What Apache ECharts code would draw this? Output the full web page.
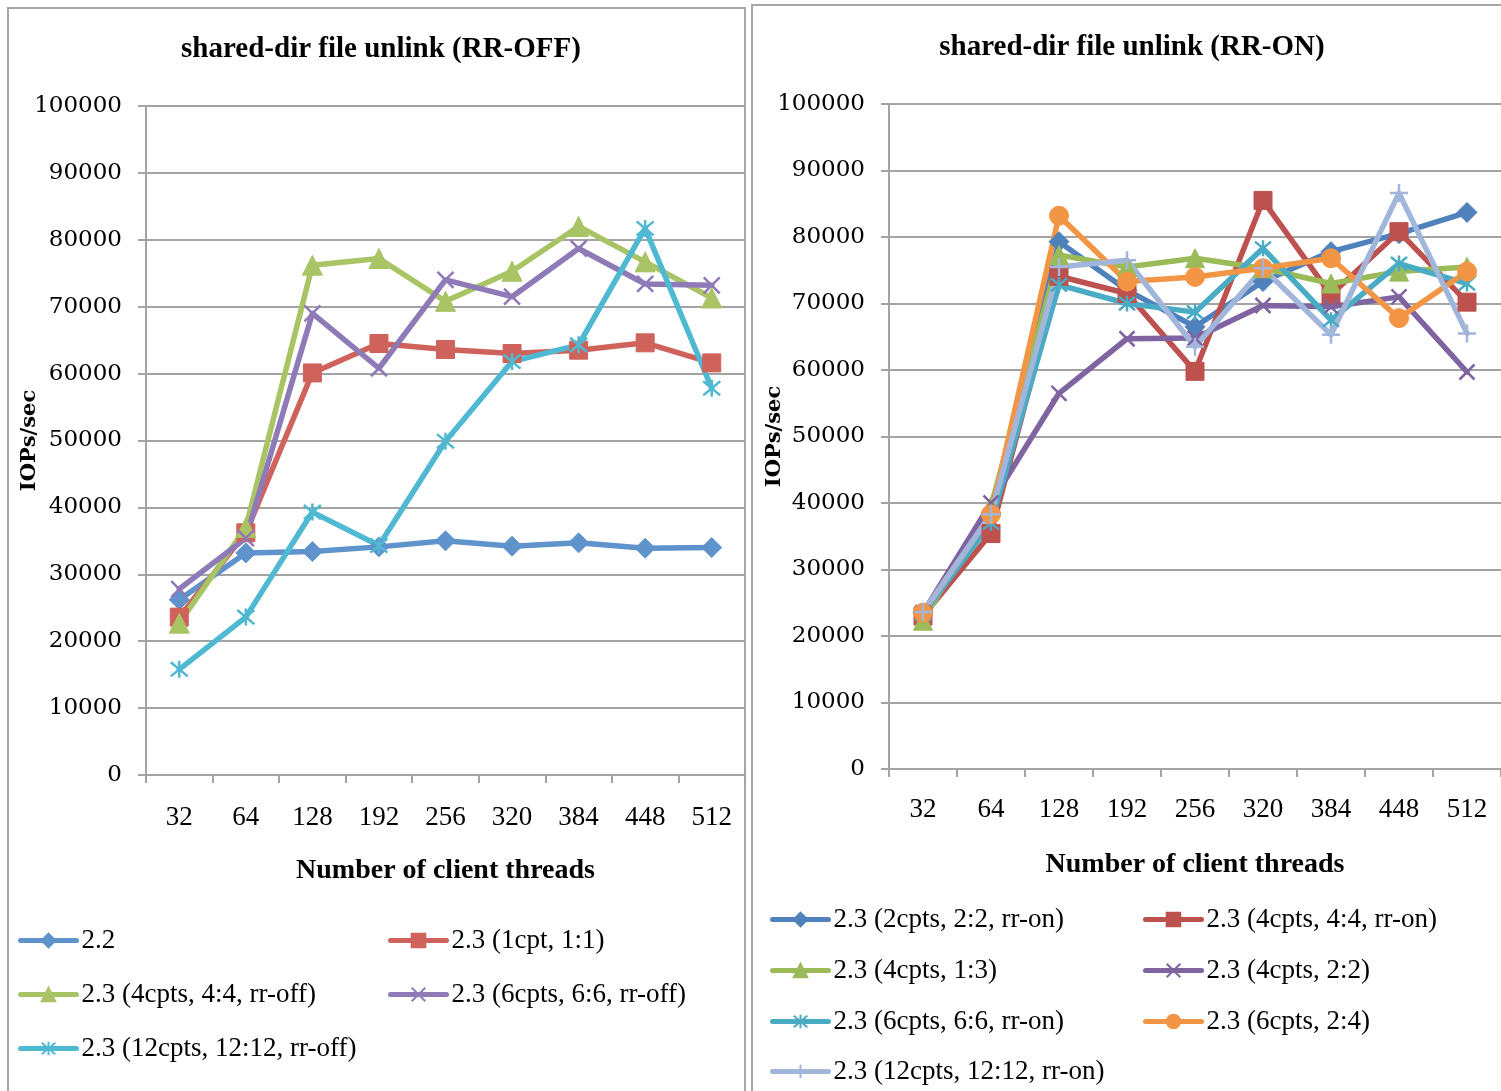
<!DOCTYPE html>
<html>
<head>
<meta charset="utf-8">
<script src="https://cdn.jsdelivr.net/npm/echarts@6/dist/echarts.min.js"></script>
<style>
  html, body { margin: 0; padding: 0; background: #fff; }
  #main { width: 1501px; height: 1091px; }
</style>
</head>
<body>
<div id="main"></div>
<script>
// categories (number of client threads)
var threads = ['32', '64', '128', '192', '256', '320', '384', '448', '512'];

// RR-OFF panel
var offNames = ['2.2', '2.3 (1cpt, 1:1)', '2.3 (4cpts, 4:4, rr-off)', '2.3 (6cpts, 6:6, rr-off)', '2.3 (12cpts, 12:12, rr-off)'];
var off22 = [26200, 33200, 33400, 34100, 35000, 34200, 34700, 33900, 34000];
var off1cpt = [23600, 36200, 60100, 64500, 63600, 63000, 63500, 64600, 61600];
var off4cpts = [22700, 37000, 76200, 77200, 70800, 75300, 82000, 76700, 71300];
var off6cpts = [27800, 35400, 69000, 60800, 74000, 71500, 78700, 73400, 73200];
var off12cpts = [15800, 23600, 39300, 34300, 49900, 61800, 64300, 81700, 57800];

// RR-ON panel
var onNames = ['2.3 (2cpts, 2:2, rr-on)', '2.3 (4cpts, 4:4, rr-on)', '2.3 (4cpts, 1:3)', '2.3 (4cpts, 2:2)',
  '2.3 (6cpts, 6:6, rr-on)', '2.3 (6cpts, 2:4)', '2.3 (12cpts, 12:12, rr-on)'];
var on2cpts = [23500, 38500, 79300, 72000, 66500, 73300, 77800, 80500, 83700];
var on4cpts44 = [23000, 35400, 74100, 71500, 59800, 85500, 71300, 80800, 70200];
var on4cpts13 = [22300, 39500, 77300, 75500, 76800, 75300, 73000, 74800, 75500];
var on4cpts22 = [23500, 40000, 56500, 64700, 64800, 69700, 69500, 71000, 59700];
var on6cpts66 = [23300, 37000, 72800, 70000, 68700, 78300, 67500, 76000, 73000];
var on6cpts24 = [23500, 38300, 83200, 73300, 74000, 75300, 76800, 67800, 74800];
var on12cpts = [23600, 38300, 75500, 76500, 63500, 75300, 65300, 86600, 65500];

var X_MARK = 'path://M0,0 L10,10 M10,0 L0,10';
var STAR_MARK = 'path://M0,0 L10,10 M10,0 L0,10 M5,-1 L5,11';
var PLUS_MARK = 'path://M5,0 L5,10 M0,5 L10,5';

var serif = 'Liberation Serif';
var gridColor = '#a3a3a3';

function mkSeries(name, data, color, symbol, size, idx) {
  var isPath = symbol.indexOf('path://') === 0;
  return {
    name: name,
    type: 'line',
    xAxisIndex: idx,
    yAxisIndex: idx,
    data: data,
    symbol: symbol,
    symbolSize: size,
    lineStyle: { color: color, width: 5.5, cap: 'round', join: 'round' },
    itemStyle: { color: color, borderColor: color, borderWidth: isPath ? 2.5 : 1 },
    emphasis: { disabled: true },
    animation: false
  };
}

var series = [
  mkSeries(offNames[0], off22, '#5e93cc', 'diamond', 20, 0),
  mkSeries(offNames[1], off1cpt, '#d0625c', 'rect', 18, 0),
  mkSeries(offNames[2], off4cpts, '#a8c465', 'triangle', 20, 0),
  mkSeries(offNames[3], off6cpts, '#8f7ab8', X_MARK, 16, 0),
  mkSeries(offNames[4], off12cpts, '#50b9d2', STAR_MARK, 17, 0),
  mkSeries(onNames[0], on2cpts, '#4f82bd', 'diamond', 20, 1),
  mkSeries(onNames[1], on4cpts44, '#bd514e', 'rect', 18, 1),
  mkSeries(onNames[2], on4cpts13, '#9bbb59', 'triangle', 19, 1),
  mkSeries(onNames[3], on4cpts22, '#7f64a1', X_MARK, 15, 1),
  mkSeries(onNames[4], on6cpts66, '#4aabc5', STAR_MARK, 16, 1),
  mkSeries(onNames[5], on6cpts24, '#f29545', 'circle', 19, 1),
  mkSeries(onNames[6], on12cpts, '#a1b6da', PLUS_MARK, 18, 1)
];

function mkLegend(name, left, top) {
  return {
    data: [name],
    left: left,
    top: top,
    padding: 0,
    itemWidth: 56,
    itemHeight: 17,
    selectedMode: false,
    lineStyle: { width: 5, cap: 'round' },
    textStyle: { fontFamily: serif, fontSize: 27, color: '#000' }
  };
}

var legends = [
  mkLegend(offNames[0], 18, 927),
  mkLegend(offNames[1], 388, 927),
  mkLegend(offNames[2], 18, 981),
  mkLegend(offNames[3], 388, 981),
  mkLegend(offNames[4], 18, 1035),
  mkLegend(onNames[0], 770, 906),
  mkLegend(onNames[1], 1143, 906),
  mkLegend(onNames[2], 770, 957),
  mkLegend(onNames[3], 1143, 957),
  mkLegend(onNames[4], 770, 1008),
  mkLegend(onNames[5], 1143, 1008),
  mkLegend(onNames[6], 770, 1058)
];

function mkX(idx) {
  return {
    type: 'category',
    gridIndex: idx,
    data: threads,
    boundaryGap: true,
    name: 'Number of client threads',
    nameLocation: 'middle',
    nameGap: 82,
    nameTextStyle: { fontFamily: serif, fontWeight: 'bold', fontSize: 28, color: '#000' },
    axisLine: { lineStyle: { color: gridColor, width: 2 } },
    axisTick: { show: true, length: 8, inside: false, lineStyle: { color: gridColor, width: 2 } },
    axisLabel: { margin: idx === 0 ? 29 : 27, fontFamily: serif, fontSize: 27, color: '#000' },
    splitLine: { show: false }
  };
}

function mkY(idx) {
  return {
    type: 'value',
    gridIndex: idx,
    min: 0,
    max: 100000,
    interval: 10000,
    name: 'IOPs/sec',
    nameLocation: 'middle',
    nameMoveOverlap: false,
    nameGap: idx === 0 ? 106 : 104,
    nameRotate: 90,
    nameTextStyle: { fontFamily: 'DejaVu Serif', fontWeight: 'bold', fontSize: 21, color: '#000' },
    axisLine: { show: true, lineStyle: { color: gridColor, width: 2 } },
    axisTick: { show: true, length: 8, lineStyle: { color: gridColor, width: 2 } },
    axisLabel: {
      margin: 24,
      fontFamily: 'DejaVu Serif',
      fontSize: 23,
      color: '#000',
      formatter: function (v) { return String(v); }
    },
    splitLine: { show: true, lineStyle: { color: gridColor, width: 2 } }
  };
}

var option = {
  backgroundColor: '#fff',
  animation: false,
  title: [{
    text: 'shared-dir file unlink (RR-OFF)',
    left: 376,
    top: 30,
    textAlign: 'center',
    textStyle: { fontFamily: serif, fontWeight: 'bold', fontSize: 29, color: '#000' }
  }, {
    text: 'shared-dir file unlink (RR-ON)',
    left: 1127,
    top: 28,
    textAlign: 'center',
    textStyle: { fontFamily: serif, fontWeight: 'bold', fontSize: 29, color: '#000' }
  }],
  graphic: [{
    type: 'rect',
    shape: { x: 8, y: 8, width: 737, height: 1100 },
    style: { fill: 'none', stroke: '#a6a6a6', lineWidth: 2 },
    z: -1
  }, {
    type: 'rect',
    shape: { x: 752, y: 5, width: 780, height: 1100 },
    style: { fill: 'none', stroke: '#a6a6a6', lineWidth: 2 },
    z: -1
  }],
  grid: [
    { left: 146, right: 756, top: 106, bottom: 316 },
    { left: 889, right: 0, top: 104, bottom: 322 }
  ],
  xAxis: [mkX(0), mkX(1)],
  yAxis: [mkY(0), mkY(1)],
  legend: legends,
  series: series
};

var myChart = echarts.init(document.getElementById('main'));
myChart.setOption(option, true);
</script>
</body>
</html>
